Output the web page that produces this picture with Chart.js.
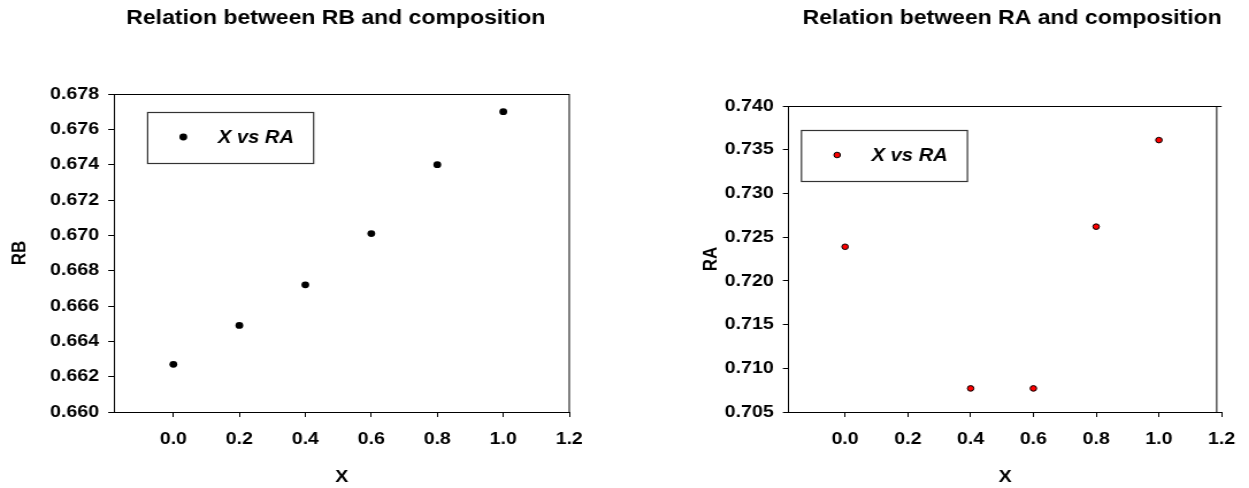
<!DOCTYPE html>
<html>
<head>
<meta charset="utf-8">
<title>Relation between RB / RA and composition</title>
<script src="https://cdn.jsdelivr.net/npm/chart.js@4.4.0/dist/chart.umd.min.js"></script>
<style>
  html, body { margin: 0; padding: 0; background: #fff; overflow: hidden; }
  /* the reference is a bit wider than tall, so each panel is stretched sideways */
  .wrap { position: absolute; top: 0; height: 488px; transform: scaleX(1.15); transform-origin: 0 0; }
  #leftWrap { left: 0; width: 540px; }
  #rightWrap { left: 620px; width: 547px; }
</style>
</head>
<body>
<div class="wrap" id="leftWrap"><canvas id="rbChart"></canvas></div>
<div class="wrap" id="rightWrap"><canvas id="raChart"></canvas></div>
<script>
// ---- data ----
const xTicks = [0.0, 0.2, 0.4, 0.6, 0.8, 1.0, 1.2];

// left panel: X vs RB
const rbX = [0.0, 0.2, 0.4, 0.6, 0.8, 1.0];
const rbY = [0.6627, 0.6649, 0.6672, 0.6701, 0.6740, 0.6770];
const rbTicks = [0.660, 0.662, 0.664, 0.666, 0.668, 0.670, 0.672, 0.674, 0.676, 0.678];

// right panel: X vs RA
const raX = [0.0, 0.4, 0.6, 0.8, 1.0];
const raY = [0.7239, 0.7077, 0.7077, 0.7262, 0.7361];
const raTicks = [0.705, 0.710, 0.715, 0.720, 0.725, 0.730, 0.735, 0.740];

const legendLabel = "X vs RA";

Chart.defaults.font.family = '"Liberation Sans", Arial, sans-serif';
Chart.defaults.color = "#000";

/**
 * Draws the title, the top/right frame lines and the boxed legend
 */
const decorPlugin = {
  id: "decor",
  afterDraw(chart, args, opts) {
    const ctx = chart.ctx;
    const area = chart.chartArea;
    ctx.save();

    // frame: top line and right line
    ctx.strokeStyle = "#000";
    ctx.lineWidth = 1;
    ctx.beginPath();
    ctx.moveTo(area.left, Math.round(area.top) + 0.5);
    ctx.lineTo(area.right, Math.round(area.top) + 0.5);
    const rx = area.right - (opts.frameInset || 0);
    ctx.moveTo(rx, area.top);
    ctx.lineTo(rx, area.bottom);
    ctx.stroke();

    // title
    ctx.font = 'bold 20px "Liberation Sans", Arial, sans-serif';
    ctx.fillStyle = "#000";
    ctx.textAlign = "center";
    ctx.textBaseline = "alphabetic";
    ctx.fillText(opts.title, opts.titleX, 24);

    // legend box
    const bx = area.left + opts.legendDx;
    const by = area.top + opts.legendDy;
    ctx.strokeStyle = "#333";
    ctx.lineWidth = 1.2;
    ctx.strokeRect(bx, Math.round(by) + 0.5, 144.3, 51);

    const ds = chart.data.datasets[0];
    ctx.beginPath();
    ctx.arc(bx + 31, by + 25, ds.pointRadius, 0, Math.PI * 2);
    ctx.fillStyle = ds.pointBackgroundColor;
    ctx.fill();
    if (ds.pointBorderWidth) {
      ctx.lineWidth = ds.pointBorderWidth;
      ctx.strokeStyle = ds.pointBorderColor;
      ctx.stroke();
    }

    ctx.font = 'italic bold 17.5px "Liberation Sans", Arial, sans-serif';
    ctx.fillStyle = "#000";
    ctx.textAlign = "left";
    ctx.textBaseline = "middle";
    ctx.fillText(legendLabel, bx + 61, by + 26);
    ctx.restore();
  },
};

function makeChart(canvasId, xs, ys, yTicks, cfg) {
  const canvas = document.getElementById(canvasId);
  const points = xs.map((x, i) => ({ x: x, y: ys[i] }));

  const axisGrid = {
    drawOnChartArea: false,
    drawTicks: true,
    tickLength: 5,
    tickColor: "#000",
    tickWidth: 1,
    color: "#000",
  };

  return new Chart(canvas, {
    type: "scatter",
    data: {
      datasets: [
        {
          label: legendLabel,
          data: points,
          pointRadius: cfg.pointRadius,
          pointBackgroundColor: cfg.pointColor,
          pointBorderColor: "#000",
          pointBorderWidth: cfg.pointBorderWidth,
          showLine: false,
        },
      ],
    },
    options: {
      responsive: true,
      maintainAspectRatio: false,
      animation: false,
      events: [],
      layout: { padding: cfg.padding },
      plugins: {
        legend: { display: false },
        tooltip: { enabled: false },
        title: { display: false },
        decor: cfg.decor,
      },
      scales: {
        x: {
          type: "linear",
          min: -0.18,
          max: 1.2,
          grid: axisGrid,
          border: { display: true, color: "#000", width: 1 },
          afterBuildTicks: (scale) => {
            scale.ticks = xTicks.map((v) => ({ value: v }));
          },
          afterFit: (scale) => {
            scale.height = 76;
          },
          ticks: {
            padding: 12,
            font: { size: 17, weight: "bold" },
            callback: (v) => Number(v).toFixed(1),
          },
          title: {
            display: true,
            text: "X",
            font: { size: 17, weight: "bold" },
            padding: { top: 0, bottom: 0 },
          },
        },
        y: {
          type: "linear",
          min: yTicks[0],
          max: yTicks[yTicks.length - 1],
          grid: axisGrid,
          border: { display: true, color: "#000", width: 1 },
          afterBuildTicks: (scale) => {
            scale.ticks = yTicks.map((v) => ({ value: v }));
          },
          afterFit: (scale) => {
            scale.width = cfg.yAxisWidth;
          },
          ticks: {
            padding: 8,
            font: { size: 17, weight: "bold" },
            callback: (v) => Number(v).toFixed(3),
          },
          title: {
            display: true,
            text: cfg.yTitle,
            font: { size: 17, weight: "bold" },
            padding: { top: cfg.yTitlePad, bottom: 0 },
          },
        },
      },
    },
    plugins: [decorPlugin],
  });
}

makeChart("rbChart", rbX, rbY, rbTicks, {
  yTitle: "RB",
  yTitlePad: 7,
  pointColor: "#000",
  pointRadius: 3.4,
  pointBorderWidth: 0,
  padding: { left: 0, right: 45, top: 94, bottom: 0 },
  yAxisWidth: 99.1,
  decor: {
    title: "Relation between RB and composition",
    titleX: 292,
    legendDx: 29.3,
    legendDy: 18,
    frameInset: 0,
  },
});

makeChart("raChart", raX, raY, raTicks, {
  yTitle: "RA",
  yTitlePad: 9,
  pointColor: "#ff0000",
  pointRadius: 2.8,
  pointBorderWidth: 1,
  padding: { left: 60, right: 19.4, top: 106, bottom: 0 },
  yAxisWidth: 86.6,
  decor: {
    title: "Relation between RA and composition",
    titleX: 341,
    legendDx: 11.2,
    legendDy: 24,
    frameInset: 4.3,
  },
});
</script>
</body>
</html>
